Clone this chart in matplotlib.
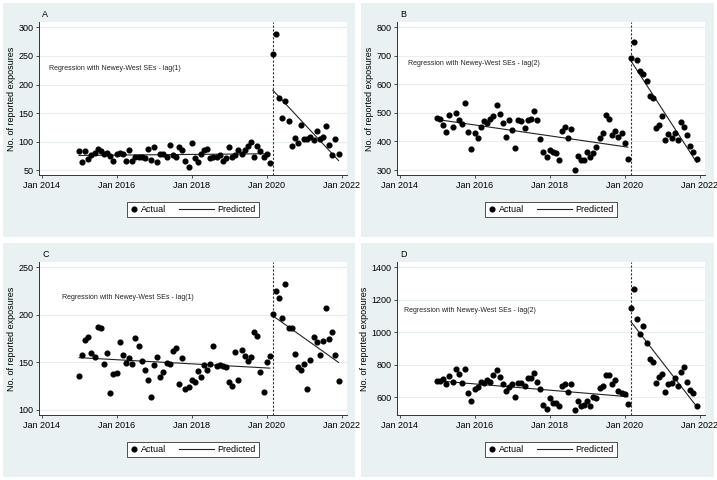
import numpy as np
import pandas as pd
import matplotlib
matplotlib.use("Agg")
import matplotlib.pyplot as plt
import matplotlib.dates as mdates
from matplotlib.patches import Rectangle
from matplotlib.lines import Line2D
from matplotlib.legend_handler import HandlerLine2D

plt.rcParams['font.family'] = ['Liberation Sans', 'DejaVu Sans']

# months: Jan 2015 - Feb 2020 (pre), Mar 2020 - Dec 2021 (post)
pre_months = pd.date_range('2015-01-01', '2020-02-01', freq='MS')
post_months = pd.date_range('2020-03-01', '2021-12-01', freq='MS')
break_month = pd.Timestamp('2020-03-01')

a_pre = [83, 65, 83, 70, 77, 81, 88, 84, 78, 80, 75, 66, 79, 81, 79, 67, 85, 67, 74, 74, 74, 72,
         88, 68, 91, 65, 79, 79, 74, 94, 77, 74, 90, 85, 66, 56, 97, 72, 64, 79, 86, 87, 71, 74,
         74, 77, 66, 71, 90, 74, 77, 85, 79, 86, 93, 99, 73, 92, 83, 73, 79, 62]
a_post = [253, 289, 177, 142, 171, 136, 93, 106, 97, 129, 104, 104, 108, 103, 119, 105, 109,
          127, 95, 76, 104, 78]
b_pre = [482, 477, 458, 433, 493, 452, 499, 476, 462, 534, 432, 372, 430, 411, 450, 470, 465,
         480, 488, 527, 496, 464, 416, 474, 440, 377, 476, 470, 446, 475, 480, 506, 474, 410,
         362, 344, 369, 362, 359, 334, 437, 450, 411, 443, 301, 348, 334, 336, 362, 345, 360,
         379, 413, 430, 491, 479, 424, 435, 414, 430, 393, 339]
b_post = [693, 750, 686, 648, 635, 613, 558, 551, 446, 456, 488, 405, 425, 411, 429, 405, 469,
          449, 421, 385, 363, 337]
c_pre = [136, 158, 174, 177, 160, 156, 187, 186, 148, 160, 118, 138, 139, 171, 158, 149, 155,
         148, 176, 167, 151, 142, 132, 114, 147, 156, 135, 140, 149, 148, 162, 165, 127, 155,
         122, 124, 131, 129, 141, 135, 147, 142, 148, 167, 146, 147, 146, 145, 129, 125, 161,
         131, 163, 157, 151, 156, 182, 178, 140, 119, 150, 157]
c_post = [201, 225, 218, 197, 232, 186, 186, 159, 145, 142, 148, 122, 153, 177, 171, 158, 173,
          207, 175, 182, 158, 130]
d_pre = [701, 701, 713, 678, 728, 691, 775, 744, 686, 775, 627, 577, 651, 664, 691, 689, 705,
         693, 738, 767, 721, 678, 637, 660, 678, 598, 689, 689, 668, 717, 719, 746, 691, 649,
         551, 524, 596, 563, 563, 547, 670, 678, 629, 682, 520, 573, 545, 551, 577, 545, 598,
         596, 658, 670, 736, 736, 678, 705, 637, 625, 621, 557]
d_post = [1149, 1266, 1081, 987, 1039, 935, 837, 814, 686, 726, 740, 629, 682, 686, 715, 670,
          752, 783, 691, 645, 625, 547]

# predicted lines (start, end) for pre and post segments
a_fit = [(76, 79), (190, 67)]
b_fit = [(477, 380), (683, 327)]
c_fit = [(155, 144), (199, 150)]
d_fit = [(700, 602), (1065, 542)]

letters = ['A', 'B', 'C', 'D']
notes = ['Regression with Newey-West SEs - lag(1)', 'Regression with Newey-West SEs - lag(2)',
         'Regression with Newey-West SEs - lag(1)', 'Regression with Newey-West SEs - lag(2)']
yticks = [[50, 100, 150, 200, 250, 300], [300, 400, 500, 600, 700, 800],
          [100, 150, 200, 250], [600, 800, 1000, 1200, 1400]]
ylims = [(41.8, 309.3), (282.5, 818.6), (94.7, 255.6), (489, 1432.7)]
note_pos = [(0.032, 0.693), (0.036, 0.732), (0.075, 0.765), (0.023, 0.68)]

bg = '#e9f1f3'
W, H = 717, 480
fig = plt.figure(figsize=(7.17, 4.8), dpi=100, facecolor='white')

# panel backgrounds (pixels: x0, y0, x1, y1)
panels = [(3, 3, 355, 237), (361, 3, 714, 237), (3, 243, 355, 477), (361, 243, 714, 477)]
for x0, y0, x1, y1 in panels:
    fig.patches.append(Rectangle((x0 / W, 1 - y1 / H), (x1 - x0) / W, (y1 - y0) / H,
                                 transform=fig.transFigure, facecolor=bg, edgecolor='none',
                                 zorder=-5))


class LongLine(HandlerLine2D):
    # predicted-line handle reaches further left than the short handle box
    def get_xdata(self, legend, xdescent, ydescent, width, height, fontsize):
        xd, xm = super().get_xdata(legend, xdescent, ydescent, width, height, fontsize)
        return [-xdescent - 3.1 * fontsize, width - xdescent], xm


datasets = [(a_pre, a_post, a_fit), (b_pre, b_post, b_fit),
            (c_pre, c_post, c_fit), (d_pre, d_post, d_fit)]
offsets = [(39, 22), (397, 22), (39, 262), (397, 262)]

for k, (pre, post, fit) in enumerate(datasets):
    ox, oy = offsets[k]
    ax = fig.add_axes([ox / W, 1 - (oy + 153) / H, 308 / W, 153 / H])
    ax.set_zorder(2)
    ax.set_facecolor('white')
    ax.plot(pre_months, pre, 'o', color='black', ms=3.4, zorder=3)
    ax.plot(post_months, post, 'o', color='black', ms=3.4, zorder=3)
    ax.plot([pre_months[0], pre_months[-1]], fit[0], color='#222222', lw=0.8, zorder=2)
    ax.plot([post_months[0], post_months[-1]], fit[1], color='#222222', lw=0.8, zorder=2)
    ax.axvline(break_month, color='#333333', lw=0.8, ls=(0, (2, 1.5)), zorder=1)

    ax.set_xlim(pd.Timestamp('2013-12-06'), pd.Timestamp('2022-02-21'))
    ax.set_ylim(*ylims[k])
    ax.set_xticks(pd.to_datetime(['2014-01-01', '2016-01-01', '2018-01-01',
                                  '2020-01-01', '2022-01-01']))
    ax.xaxis.set_major_formatter(mdates.DateFormatter('Jan %Y'))
    ax.set_yticks(yticks[k])
    ax.grid(axis='y', color='#e6eef0', lw=0.8, zorder=0)
    ax.set_axisbelow(True)
    for s in ['top', 'right']:
        ax.spines[s].set_visible(False)
    for s in ['left', 'bottom']:
        ax.spines[s].set_color('#333333')
        ax.spines[s].set_linewidth(0.7)
    ax.tick_params(labelsize=6.5, length=2.5, width=0.6, color='#333333', pad=1.5)
    ax.set_ylabel('No. of reported exposures', fontsize=6.5, labelpad=2)
    ax.text(*note_pos[k], notes[k], transform=ax.transAxes, fontsize=5, va='center',
            color='#222222')
    ax.text(0.01, 1.05, letters[k], transform=ax.transAxes, fontsize=6.5, va='center')

    h_act = Line2D([], [], marker='o', ls='none', color='black', ms=3.4)
    h_pred = Line2D([], [], color='#222222', lw=0.8)
    leg = ax.legend([h_act, h_pred], ['Actual', 'Predicted'], ncol=2, fontsize=6.5,
                    loc='center', bbox_to_anchor=(0.5, -0.225), frameon=True, fancybox=False,
                    edgecolor='#333333', framealpha=1, handlelength=0.8, columnspacing=4.6,
                    handletextpad=0.35, borderpad=0.35,
                    handler_map={h_pred: LongLine()})
    leg.get_frame().set_linewidth(0.6)

fig.savefig('out.png', dpi=100, facecolor='white')
